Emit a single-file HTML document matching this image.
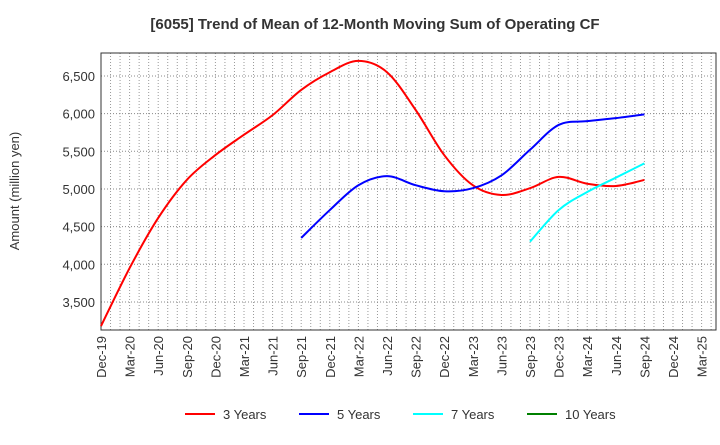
<!DOCTYPE html>
<html><head><meta charset="utf-8"><style>
body{margin:0;background:#fff;font-family:"Liberation Sans",sans-serif;}
</style></head><body>
<svg id="chart" width="720" height="440" xmlns="http://www.w3.org/2000/svg" font-family="Liberation Sans, sans-serif">
<text x="375" y="29" text-anchor="middle" font-size="15" font-weight="bold" fill="#333">[6055]  Trend of Mean of 12-Month Moving Sum of Operating CF</text>
<text transform="translate(19,191) rotate(-90)" text-anchor="middle" font-size="13" fill="#333">Amount (million yen)</text>
<g id="grid"></g><g id="axes"></g><g id="series"></g><g id="legend"></g>
</svg>
<script>
const xLabels=["Dec-19","Mar-20","Jun-20","Sep-20","Dec-20","Mar-21","Jun-21","Sep-21","Dec-21","Mar-22","Jun-22","Sep-22","Dec-22","Mar-23","Jun-23","Sep-23","Dec-23","Mar-24","Jun-24","Sep-24","Dec-24","Mar-25"];
const yTicks=[3500,4000,4500,5000,5500,6000,6500];
const yTickLabels=["3,500","4,000","4,500","5,000","5,500","6,000","6,500"];
const red=[3180,3950,4615,5120,5450,5720,5980,6315,6550,6700,6550,6050,5450,5050,4920,5010,5160,5070,5040,5120];
const redStart=0;
const blue=[4350,4720,5050,5170,5050,4970,5010,5180,5520,5850,5900,5940,5990];
const blueStart=7;
const cyan=[4300,4720,4960,5150,5340];
const cyanStart=15;
const seriesNames=["3 Years","5 Years","7 Years","10 Years"];
const seriesColors=["#ff0000","#0000ff","#00ffff","#008000"];

const L=101,R=716,T=53,B=330,yMin=3128,yMax=6805,QW=28.6;
const NS="http://www.w3.org/2000/svg";
const xq=i=>L+i*QW;
const xm=m=>L+m*QW/3;
const y=v=>B-(v-yMin)/(yMax-yMin)*(B-T);
function mk(tag,attrs,parent){const e=document.createElementNS(NS,tag);for(const k in attrs)e.setAttribute(k,attrs[k]);parent.appendChild(e);return e;}
const grid=document.getElementById('grid'),axes=document.getElementById('axes'),ser=document.getElementById('series'),leg=document.getElementById('legend');
for(let m=1;xm(m)<R;m++){const g=mk('line',{x1:xm(m),x2:xm(m),y1:T,y2:B,stroke:'#999','stroke-dasharray':'1,2','stroke-width':1},grid);

}
yTicks.forEach((v,i)=>{const g=mk('line',{x1:L,x2:R,y1:y(v),y2:y(v),stroke:'#888','stroke-dasharray':'1,2','stroke-width':1},grid);


const t=mk('text',{x:L-6,y:y(v)+5,'text-anchor':'end','font-size':13,fill:'#333'},axes);t.textContent=yTickLabels[i];

});
const frame=mk('rect',{x:L,y:T,width:R-L,height:B-T,fill:'none',stroke:'#333','stroke-width':1},axes);


xLabels.forEach((s,i)=>{const t=mk('text',{transform:`translate(${xq(i)+5},${B+6}) rotate(-90)`,'text-anchor':'end','font-size':13,fill:'#333'},axes);t.textContent=s;

});
function path(vals,start){const p=vals.map((v,i)=>[xq(start+i),y(v)]);let d=`M${p[0][0]},${p[0][1]}`;
for(let i=0;i<p.length-1;i++){const p0=p[i-1]||p[i],p1=p[i],p2=p[i+1],p3=p[i+2]||p2;
d+=` C${p1[0]+(p2[0]-p0[0])/6},${p1[1]+(p2[1]-p0[1])/6} ${p2[0]-(p3[0]-p1[0])/6},${p2[1]-(p3[1]-p1[1])/6} ${p2[0]},${p2[1]}`;}return d;}
[[red,redStart,0,'line-3-years'],[blue,blueStart,1,'line-5-years'],[cyan,cyanStart,2,'line-7-years']].forEach(([v,s,c,n])=>{
const e=mk('path',{d:path(v,s),fill:'none',stroke:seriesColors[c],'stroke-width':2},ser);

});
const lx=[185,299,413,527];
seriesNames.forEach((s,i)=>{const g=mk('g',{},leg);


mk('line',{x1:lx[i],x2:lx[i]+30,y1:414,y2:414,stroke:seriesColors[i],'stroke-width':2},g);
const t=mk('text',{x:lx[i]+38,y:419,'font-size':13,fill:'#333'},g);t.textContent=s;});
</script>
</body></html>
